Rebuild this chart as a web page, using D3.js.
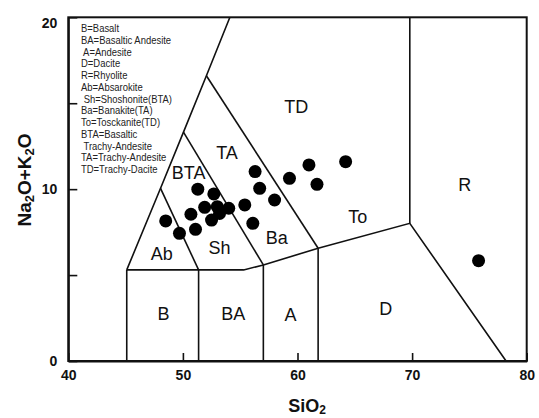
<!DOCTYPE html>
<html>
<head>
<meta charset="utf-8">
<script src="https://cdn.jsdelivr.net/npm/d3@7"></script>
<style>
  html, body { margin: 0; padding: 0; background: #fff; }
  svg { display: block; }
  .tick text { font-family: "Liberation Sans", Arial, sans-serif; font-weight: bold; font-size: 14px; fill: #111; }
  .legend text { white-space: pre; }
</style>
</head>
<body>
<svg id="chart" width="539" height="418"></svg>
<script>
// Sample analyses: SiO2 (wt%) and total alkalis Na2O+K2O (wt%)
const silica = [48.5, 49.7, 50.7, 51.1, 51.3, 51.9, 52.5, 52.7, 53.0, 53.2, 54.0,
                55.4, 56.1, 56.3, 56.7, 58.0, 59.3, 61.0, 61.7, 64.2, 75.8];
const alkali = [8.15, 7.43, 8.54, 7.66, 10.0, 8.94, 8.20, 9.72, 8.98, 8.59, 8.89,
                9.08, 8.01, 11.02, 10.05, 9.37, 10.63, 11.41, 10.28, 11.60, 5.84];

// Axis ticks
const xTicks = [40, 50, 60, 70, 80];
const yTicks = [0, 5, 10, 15, 20];
const yTickLabels = ["0", "", "10", "", "20"];

// Field boundaries of the classification grid (SiO2, Na2O+K2O)
const boundaries = [
  [[45.1, 0], [45.1, 5.3]],
  [[51.37, 0], [51.37, 5.3]],
  [[57.02, 0], [57.02, 5.59]],
  [[61.8, 0], [61.8, 6.56]],
  [[45.1, 5.3], [55.3, 5.3], [57.02, 5.59], [61.8, 6.56], [69.8, 8.01], [78.2, 0]],
  [[45.1, 5.3], [48.05, 10.05], [50.05, 13.32], [52.05, 16.6], [54.1, 20]],
  [[48.05, 10.05], [51.37, 5.3]],
  [[50.05, 13.32], [57.02, 5.59]],
  [[52.05, 16.6], [61.8, 6.56]],
  [[69.8, 8.01], [69.8, 20]]
];

// Field names and their anchor points
const fieldNames   = ["TD", "R", "TA", "BTA", "Ab", "Sh", "Ba", "To", "B", "BA", "A", "D"];
const fieldSiO2    = [59.9, 74.6, 53.85, 50.5, 48.15, 53.2, 58.2, 65.25, 48.3, 54.4, 59.4, 67.7];
const fieldAlkali  = [14.8, 10.24, 12.09, 10.92, 6.23, 6.56, 7.14, 8.36, 2.72, 2.72, 2.68, 3.03];

// Abbreviation key
const keyLines = [
  "B=Basalt",
  "BA=Basaltic Andesite",
  " A=Andesite",
  "D=Dacite",
  "R=Rhyolite",
  "Ab=Absarokite",
  " Sh=Shoshonite(BTA)",
  "Ba=Banakite(TA)",
  "To=Tosckanite(TD)",
  "BTA=Basaltic",
  " Trachy-Andesite",
  "TA=Trachy-Andesite",
  "TD=Trachy-Dacite"
];

const svg = d3.select("#chart");

const x = d3.scaleLinear().domain([40, 80]).range([68.3, 526.7]);
const y = d3.scaleLinear().domain([0, 20]).range([361, 17.3]);

// Frame
svg.append("rect")
  .attr("x", x(40)).attr("y", y(20))
  .attr("width", x(80) - x(40)).attr("height", y(0) - y(20))
  .attr("fill", "none").attr("stroke", "#111").attr("stroke-width", 2);

// Field boundaries
const line = d3.line().x(d => x(d[0])).y(d => y(d[1]));
svg.append("g").selectAll("path")
  .data(boundaries)
  .join("path")
  .attr("d", line)
  .attr("fill", "none")
  .attr("stroke", "#111")
  .attr("stroke-width", 1.6)
  .attr("stroke-linejoin", "miter");

// Axes with inward ticks
const xAxis = d3.axisBottom(x).tickValues(xTicks).tickSizeInner(-8).tickSizeOuter(0).tickPadding(9)
  .tickFormat(d3.format("d"));
const gx = svg.append("g").attr("transform", `translate(0,${y(0)})`).call(xAxis);
gx.select(".domain").attr("stroke", "#111").attr("stroke-width", 2);
gx.selectAll(".tick line").attr("stroke", "#111").attr("stroke-width", 1.6);

const yAxis = d3.axisLeft(y).tickValues(yTicks).tickSizeInner(-9).tickSizeOuter(0).tickPadding(11)
  .tickFormat((d, i) => yTickLabels[i]);
const gy = svg.append("g").attr("transform", `translate(${x(40)},0)`).call(yAxis);
gy.select(".domain").attr("stroke", "#111").attr("stroke-width", 2);
gy.selectAll(".tick line").attr("stroke", "#111").attr("stroke-width", 1.6);
gy.selectAll(".tick text").attr("dy", (d, i) => d === 20 ? "0.75em" : "0.32em");

// Field labels
svg.append("g").selectAll("text")
  .data(fieldNames)
  .join("text")
  .attr("x", (d, i) => x(fieldSiO2[i]))
  .attr("y", (d, i) => y(fieldAlkali[i]))
  .attr("text-anchor", "middle")
  .attr("dominant-baseline", "central")
  .attr("font-family", "'Liberation Sans', Arial, sans-serif")
  .attr("font-size", 18)
  .attr("fill", "#111")
  .text(d => d);

// Abbreviation key, set in a condensed face
svg.append("g").attr("class", "legend")
  .attr("transform", "translate(81,0) scale(0.86,1)")
  .selectAll("text")
  .data(keyLines)
  .join("text")
  .attr("x", 0)
  .attr("y", (d, i) => 28.3 + i * 11.75)
  .attr("dominant-baseline", "central")
  .attr("font-family", "'Liberation Sans', Arial, sans-serif")
  .attr("font-size", 11)
  .attr("fill", "#222")
  .text(d => d);

// Samples
svg.append("g").selectAll("circle")
  .data(silica)
  .join("circle")
  .attr("cx", d => x(d))
  .attr("cy", (d, i) => y(alkali[i]))
  .attr("r", 6.5)
  .attr("fill", "#000");

// Axis titles
const xTitle = svg.append("text")
  .attr("x", 307).attr("y", 412)
  .attr("text-anchor", "middle")
  .attr("font-family", "'Liberation Sans', Arial, sans-serif")
  .attr("font-weight", "bold").attr("font-size", 18).attr("fill", "#111");
xTitle.append("tspan").text("SiO");
xTitle.append("tspan").attr("font-size", 12).attr("dy", 2).text("2");

const yTitle = svg.append("text")
  .attr("transform", "translate(31,180) rotate(-90)")
  .attr("text-anchor", "middle")
  .attr("font-family", "'Liberation Sans', Arial, sans-serif")
  .attr("font-weight", "bold").attr("font-size", 19).attr("fill", "#111");
yTitle.append("tspan").text("Na");
yTitle.append("tspan").attr("font-size", 13).attr("dy", 3).text("2");
yTitle.append("tspan").attr("dy", -3).text("O+K");
yTitle.append("tspan").attr("font-size", 13).attr("dy", 3).text("2");
yTitle.append("tspan").attr("dy", -3).text("O");
</script>
</body>
</html>
